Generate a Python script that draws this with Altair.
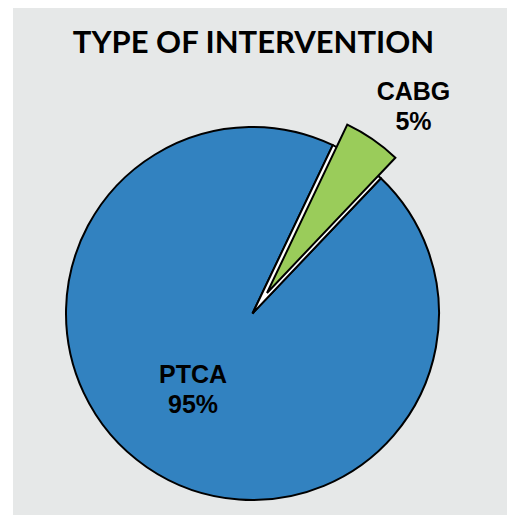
import math
import altair as alt
import pandas as pd

title_text = "TYPE OF INTERVENTION"
categories = ["CABG", "PTCA"]
values = [5, 95]
slice_order = [0, 1]

BLUE = "#3282C0"
GREEN = "#9ACC5A"
BG = "#E6E8E8"

START_DEG = 25.5
CX, CY, R = 239.5, 305.5, 186.5
DX, DY = 14.5, -20.5

df = pd.DataFrame({"category": categories, "value": values, "ord": slice_order})
start = math.radians(START_DEG)

base = (
    alt.Chart(df)
    .transform_joinaggregate(total="sum(value)")
    .transform_window(cum="sum(value)", sort=[alt.SortField("ord", order="ascending")], frame=[None, 0])
    .transform_calculate(
        t_end=f"{start} + 2*PI*datum.cum/datum.total",
        t_start=f"{start} + 2*PI*(datum.cum-datum.value)/datum.total",
        label="datum.category + '\\n' + datum.value + '%'",
    )
)

blue = base.transform_filter("datum.category == 'PTCA'").mark_arc(
    outerRadius=R, fill=BLUE, stroke="black", strokeWidth=2
).encode(
    theta=alt.Theta("t_start:Q", scale=None),
    theta2="t_end:Q",
    x=alt.value(CX),
    y=alt.value(CY),
)

gap = base.transform_filter("datum.category == 'CABG'").mark_arc(
    outerRadius=R, fill="white", stroke="black", strokeWidth=2
).encode(
    theta=alt.Theta("t_start:Q", scale=None),
    theta2="t_end:Q",
    x=alt.value(CX),
    y=alt.value(CY),
)

green = base.transform_filter("datum.category == 'CABG'").mark_arc(
    outerRadius=R, fill=GREEN, stroke="black", strokeWidth=2
).encode(
    theta=alt.Theta("t_start:Q", scale=None),
    theta2="t_end:Q",
    x=alt.value(CX + DX),
    y=alt.value(CY + DY),
)

label_style = dict(font="Liberation Sans", fontWeight="bold", fontSize=25,
                   lineBreak="\n", lineHeight=30, align="center",
                   baseline="alphabetic", color="black")

lab_cabg = base.transform_filter("datum.category == 'CABG'").mark_text(**label_style).encode(
    text="label:N", x=alt.value(400.5), y=alt.value(92)
)
lab_ptca = base.transform_filter("datum.category == 'PTCA'").mark_text(**label_style).encode(
    text="label:N", x=alt.value(180), y=alt.value(375)
)

title = alt.Chart(pd.DataFrame({"t": [title_text]})).mark_text(
    font="Lato", fontWeight="bold", fontSize=31, align="center", baseline="alphabetic", color="black"
).encode(text="t:N", x=alt.value(240.5), y=alt.value(45))

chart = (
    alt.layer(blue, gap, green, lab_cabg, lab_ptca, title)
    .properties(width=494, height=507, padding={"left": 5, "top": 0, "right": 0, "bottom": 0},
                background="white")
    .configure_view(stroke=None, fill=BG)
)

chart.save("out.html", embed_options={"renderer": "svg", "actions": False})
